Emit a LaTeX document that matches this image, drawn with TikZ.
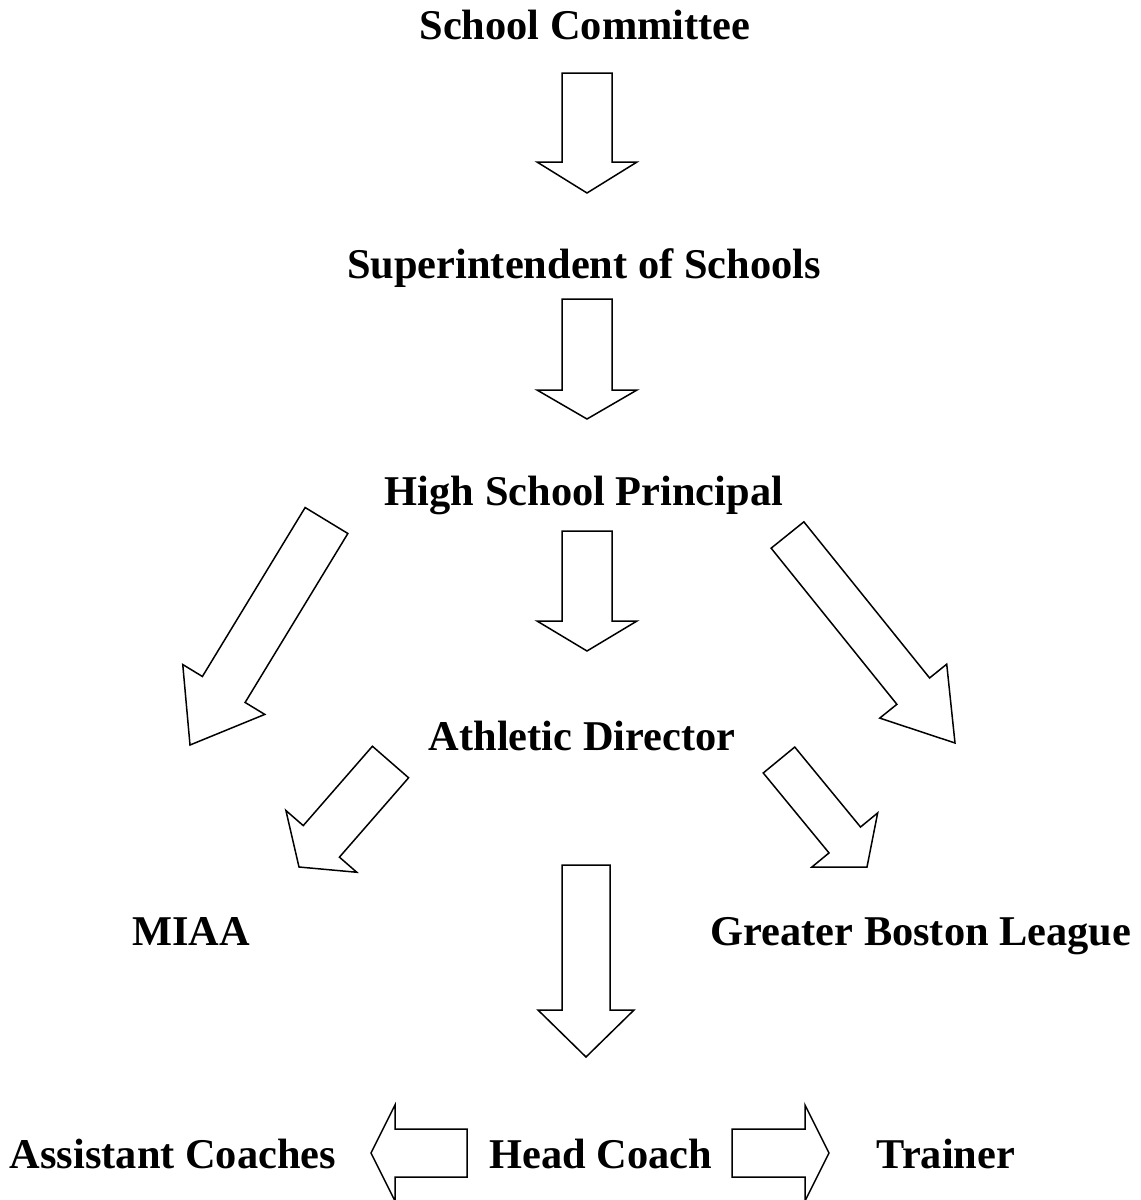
\documentclass[tikz,border=0pt]{standalone}
\usepackage{fontspec}
\setmainfont{Liberation Serif}
\usetikzlibrary{calc}

\newcommand{\blockarrow}[5]{%
  \coordinate (hb) at ($(#2)!#5!(#1)$);
  \draw[blk] ($(#1)!#3!90:(#2)$) -- ($(hb)!#3!90:(#2)$) -- ($(hb)!#4!90:(#2)$) -- (#2)
    -- ($(hb)!#4!-90:(#2)$) -- ($(hb)!#3!-90:(#2)$) -- ($(#1)!#3!-90:(#2)$) -- cycle;
}

\begin{document}
\begin{tikzpicture}[x=0.5pt, y=-0.5pt,
    lbl/.style={inner sep=0pt, anchor=base, font=\fontsize{21.2}{25}\selectfont\bfseries},
    blk/.style={draw=black, line width=0.75pt, line join=miter, fill=white}]
        \useasboundingbox (0,0) rectangle (1141,1200);

        \node[lbl] (comm) at (585,39) {School Committee};
        \node[lbl] (supt) at (584,278) {Superintendent of Schools};
        \node[lbl] (prin) at (584,505) {High School Principal};
        \node[lbl] (ad) at (582,750) {Athletic Director};
        \node[lbl] (miaa) at (191,945) {MIAA};
        \node[lbl] (gbl) at (921,945) {Greater Boston League};
        \node[lbl] (asst) at (173,1168) {Assistant Coaches};
        \node[lbl] (head) at (601,1168) {Head Coach};
        \node[lbl] (trainer) at (946,1168) {Trainer};

        \coordinate (t1) at (587,73);     \coordinate (h1) at (587,193);
        \coordinate (t2) at (587,299);    \coordinate (h2) at (587,419);
        \coordinate (t3) at (587,531);    \coordinate (h3) at (587,651);
        \coordinate (t4) at (586,865);    \coordinate (h4) at (586,1057);
        \coordinate (tl) at (326.5,520.5); \coordinate (hl) at (190,745);
        \coordinate (tr) at (787.5,535);  \coordinate (hr) at (955,743);
        \coordinate (tm) at (390.5,762);  \coordinate (hm) at (299,867);
        \coordinate (tg) at (779,760);    \coordinate (hg) at (867,867);
        \coordinate (ta) at (467,1153);   \coordinate (ha) at (371,1153);
        \coordinate (tt) at (732,1153);   \coordinate (ht) at (829,1153);

        \blockarrow{t1}{h1}{12.5pt}{25pt}{15.5pt}
        \blockarrow{t2}{h2}{12.5pt}{25pt}{14.5pt}
        \blockarrow{t3}{h3}{12.5pt}{25pt}{15pt}
        \blockarrow{t4}{h4}{12pt}{24pt}{23.5pt}
        \blockarrow{tl}{hl}{12.5pt}{24pt}{32.5pt}
        \blockarrow{tr}{hr}{10.5pt}{21.5pt}{33.3pt}
        \blockarrow{tm}{hm}{12pt}{23.5pt}{17pt}
        \blockarrow{tg}{hg}{10.2pt}{21.3pt}{17.5pt}
        \blockarrow{ta}{ha}{12pt}{24pt}{12pt}
        \blockarrow{tt}{ht}{12pt}{24pt}{12pt}
    \end{tikzpicture}
\end{document}
